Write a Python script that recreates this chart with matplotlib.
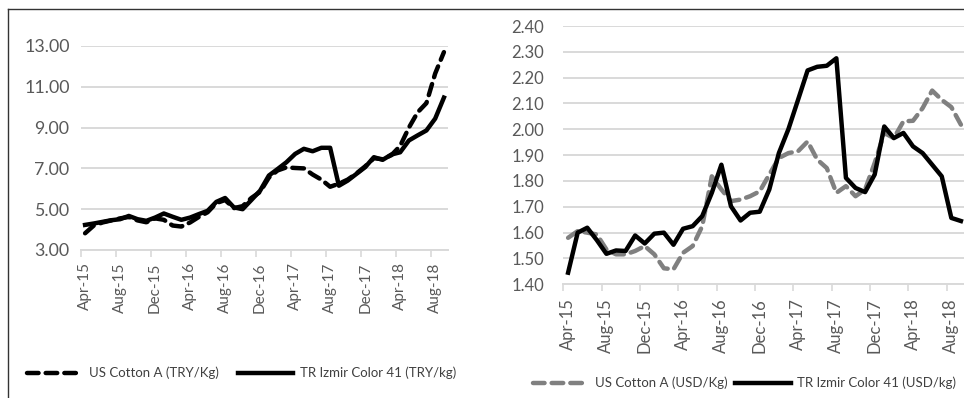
import matplotlib
matplotlib.use("Agg")
import matplotlib.pyplot as plt
from matplotlib.lines import Line2D

plt.rcParams['font.family'] = ['Lato', 'DejaVu Sans']

# monthly, Apr-15 .. Sep-18 (42 months)
months = ['Apr-15', 'May-15', 'Jun-15', 'Jul-15', 'Aug-15', 'Sep-15', 'Oct-15', 'Nov-15',
          'Dec-15', 'Jan-16', 'Feb-16', 'Mar-16', 'Apr-16', 'May-16', 'Jun-16', 'Jul-16',
          'Aug-16', 'Sep-16', 'Oct-16', 'Nov-16', 'Dec-16', 'Jan-17', 'Feb-17', 'Mar-17',
          'Apr-17', 'May-17', 'Jun-17', 'Jul-17', 'Aug-17', 'Sep-17', 'Oct-17', 'Nov-17',
          'Dec-17', 'Jan-18', 'Feb-18', 'Mar-18', 'Apr-18', 'May-18', 'Jun-18', 'Jul-18',
          'Aug-18', 'Sep-18']

us_try = [3.82, 4.20, 4.35, 4.45, 4.55, 4.62, 4.45, 4.36, 4.55, 4.48, 4.20, 4.15,
          4.35, 4.62, 4.85, 5.30, 5.45, 5.05, 5.15, 5.55, 5.85, 6.55, 6.90, 7.05,
          7.02, 7.00, 6.70, 6.45, 6.10, 6.25, 6.45, 6.75, 7.10, 7.50, 7.45, 7.65,
          8.10, 9.00, 9.75, 10.20, 11.65, 12.70]
tr_try = [4.23, 4.30, 4.38, 4.46, 4.51, 4.67, 4.51, 4.43, 4.59, 4.79, 4.63, 4.48,
          4.59, 4.76, 4.92, 5.36, 5.55, 5.09, 5.00, 5.45, 5.91, 6.65, 6.97, 7.30,
          7.71, 7.96, 7.84, 8.01, 8.01, 6.15, 6.40, 6.73, 7.06, 7.55, 7.42, 7.68,
          7.79, 8.37, 8.62, 8.86, 9.44, 10.47]

us_usd = [1.580, 1.606, 1.600, 1.593, 1.535, 1.516, 1.516, 1.529, 1.548, 1.516, 1.462, 1.458,
          1.522, 1.548, 1.625, 1.818, 1.767, 1.722, 1.728, 1.741, 1.760, 1.825, 1.889, 1.908,
          1.915, 1.953, 1.883, 1.850, 1.754, 1.780, 1.741, 1.767, 1.870, 1.986, 1.966, 2.031,
          2.033, 2.082, 2.150, 2.114, 2.086, 2.018]
tr_usd = [1.445, 1.600, 1.619, 1.571, 1.518, 1.531, 1.529, 1.589, 1.558, 1.596, 1.600, 1.553,
          1.615, 1.625, 1.664, 1.754, 1.863, 1.702, 1.647, 1.677, 1.681, 1.767, 1.908, 2.001,
          2.114, 2.228, 2.242, 2.246, 2.275, 1.812, 1.773, 1.757, 1.825, 2.011, 1.966, 1.986,
          1.934, 1.908, 1.863, 1.818, 1.657, 1.645]

left_yticks = [3, 5, 7, 9, 11, 13]
right_yticks = [1.4, 1.5, 1.6, 1.7, 1.8, 1.9, 2.0, 2.1, 2.2, 2.3, 2.4]

GRID = '#d9d9d9'
TXT = '#595959'
W, H = 964, 398

fig = plt.figure(figsize=(9.64, 3.98), dpi=100)


def px_axes(x0, x1, ytop, ybot):
    return fig.add_axes([x0 / W, (H - ybot) / H, (x1 - x0) / W, (ybot - ytop) / H])


def style_axis(ax, yticks, ylab_fmt, ysize, xsize, ypad, xpad):
    n = len(months)
    ax.set_xlim(-0.5, n - 0.5)
    ax.set_ylim(yticks[0], yticks[-1])
    ax.set_yticks(yticks)
    ax.set_yticklabels([ylab_fmt % v for v in yticks])
    ax.grid(axis='y', color=GRID, lw=1.4)
    ax.set_axisbelow(True)
    for s in ['top', 'right', 'left']:
        ax.spines[s].set_visible(False)
    ax.spines['bottom'].set_color(GRID)
    ax.spines['bottom'].set_linewidth(1.4)
    ax.tick_params(axis='y', length=0, labelsize=ysize, labelcolor=TXT, pad=ypad)
    # tick marks at category boundaries, labels at category centres
    ax.set_xticks([i - 0.5 for i in range(0, n - 1, 4)])
    ax.set_xticklabels([])
    ax.tick_params(axis='x', which='major', length=5, width=1.2, color=GRID)
    ax.set_xticks(list(range(0, n, 4)), minor=True)
    ax.set_xticklabels([months[i] for i in range(0, n, 4)], minor=True,
                       rotation=90, fontsize=xsize, color=TXT)
    ax.tick_params(axis='x', which='minor', length=0, pad=xpad)


x = list(range(len(months)))

# left: TRY/kg
ax1 = px_axes(80.7, 448.3, 46, 250)
l1, = ax1.plot(x, us_try, color='black', lw=3.2, ls=(0, (2.6, 1.6)),
               dash_capstyle='round', solid_joinstyle='round')
l2, = ax1.plot(x, tr_try, color='black', lw=3.2, solid_joinstyle='round')
style_axis(ax1, left_yticks, '%.2f', 12.8, 11, 8, 9)

# right: USD/kg
ax2 = px_axes(563.3, 965.7, 26, 284.3)
r1, = ax2.plot(x, us_usd, color='#808080', lw=3.2, ls=(0, (2.6, 1.6)),
               dash_capstyle='round', solid_joinstyle='round')
r2, = ax2.plot(x, tr_usd, color='black', lw=3.2, solid_joinstyle='round')
style_axis(ax2, right_yticks, '%.2f', 12, 12, 14, 10)

fig.legend([l1, l2], ['US Cotton A (TRY/Kg)', 'TR Izmir Color 41 (TRY/kg)'],
           loc='center', bbox_to_anchor=(241.5 / W, (H - 373) / H), ncol=2,
           frameon=False, fontsize=9.5, labelcolor='#404040', handlelength=4.2,
           handletextpad=0.5, columnspacing=1.4, borderpad=0)
fig.legend([r1, r2], ['US Cotton A (USD/Kg)', 'TR Izmir Color 41 (USD/kg)'],
           loc='center', bbox_to_anchor=(744.5 / W, (H - 383) / H), ncol=2,
           frameon=False, fontsize=9.5, labelcolor='#404040', handlelength=4.2,
           handletextpad=0.5, columnspacing=0.6, borderpad=0)

# outer frame (top edge and left edge of the left chart box)
fig.add_artist(Line2D([8 / W, 1.0], [(H - 9) / H] * 2, color='#333333', lw=1.0))
fig.add_artist(Line2D([8 / W] * 2, [0, (H - 9) / H], color='#333333', lw=1.0))

fig.savefig('out.png', dpi=100)
